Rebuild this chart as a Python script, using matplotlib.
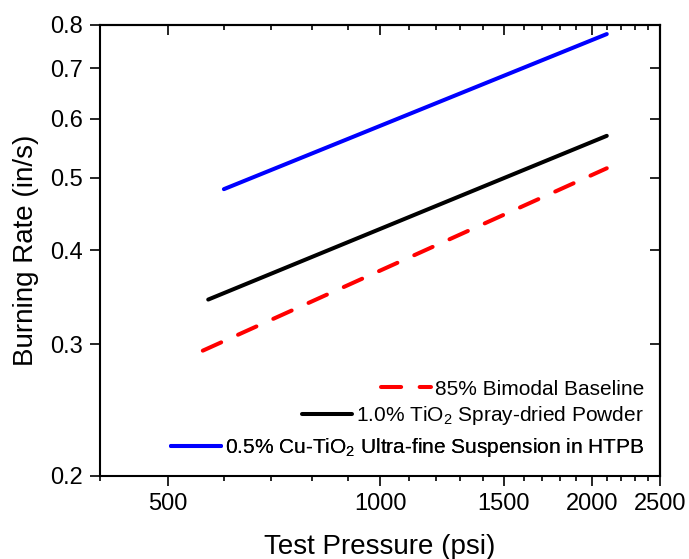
import numpy as np
import matplotlib
matplotlib.use('Agg')
import matplotlib.pyplot as plt
from matplotlib.ticker import FixedLocator, NullFormatter, NullLocator, FixedFormatter

plt.rcParams['font.family'] = ['Liberation Sans', 'DejaVu Sans']
plt.rcParams['mathtext.fontset'] = 'custom'
plt.rcParams['mathtext.rm'] = 'Liberation Sans'
plt.rcParams['mathtext.it'] = 'Liberation Sans'

# Valori (estremi delle rette nel piano log-log)
pressBaseline = [560, 2100]
rateBaseline = [0.294, 0.515]
pressPowder = [570, 2100]
ratePowder = [0.344, 0.569]
pressSusp = [600, 2100]
rateSusp = [0.483, 0.778]

labels = ['85% Bimodal Baseline',
          '1.0% TiO$_\\mathregular{2}$ Spray-dried Powder',
          '0.5% Cu-TiO$_\\mathregular{2}$ Ultra-fine Suspension in HTPB']

xTicks = [500, 1000, 1500, 2000, 2500]
xMinor = [400, 600, 700, 800, 900, 1100, 1200, 1300, 1400, 1600, 1700, 1800, 1900, 2100, 2200, 2300, 2400]
yTicks = [0.2, 0.3, 0.4, 0.5, 0.6, 0.7, 0.8]

fig = plt.figure(figsize=(6.89, 5.59), dpi=100)
ax = fig.add_axes([0.1451, 0.1485, 0.8129, 0.8068])

lw = 2.9
l1, = ax.plot(pressBaseline, rateBaseline, color='red', lw=lw, dashes=(5, 4.6),
              dash_capstyle='round')
l2, = ax.plot(pressPowder, ratePowder, color='black', lw=lw, solid_capstyle='round')
l3, = ax.plot(pressSusp, rateSusp, color='blue', lw=lw, solid_capstyle='round')

ax.set_xscale('log')
ax.set_yscale('log')
ax.set_xlim(400, 2500)
ax.set_ylim(0.2, 0.8)

ax.xaxis.set_major_locator(FixedLocator(xTicks))
ax.xaxis.set_major_formatter(FixedFormatter([str(t) for t in xTicks]))
ax.xaxis.set_minor_locator(FixedLocator(xMinor))
ax.xaxis.set_minor_formatter(NullFormatter())
ax.yaxis.set_major_locator(FixedLocator(yTicks))
ax.yaxis.set_major_formatter(FixedFormatter([str(t) for t in yTicks]))
ax.yaxis.set_minor_locator(NullLocator())

# Tick esterni in basso/sinistra
ax.tick_params(which='both', labelsize=17, width=1.2, direction='out', top=False, right=False)
ax.tick_params(which='major', length=7, pad=5)
ax.tick_params(which='minor', length=3.5)

# Tick interni in alto/destra (assi secondari)
axT = ax.secondary_xaxis('top')
axT.set_xscale('log')
axT.xaxis.set_major_locator(FixedLocator(xTicks))
axT.xaxis.set_minor_locator(FixedLocator(xMinor))
axT.xaxis.set_major_formatter(NullFormatter())
axT.xaxis.set_minor_formatter(NullFormatter())
axT.tick_params(which='both', direction='in', width=1.2)
axT.tick_params(which='major', length=7)
axT.tick_params(which='minor', length=3.5)
axR = ax.secondary_yaxis('right')
axR.set_yscale('log')
axR.yaxis.set_major_locator(FixedLocator(yTicks))
axR.yaxis.set_minor_locator(NullLocator())
axR.yaxis.set_major_formatter(NullFormatter())
axR.tick_params(which='major', direction='in', length=7, width=1.2)

for s in list(ax.spines.values()) + [axT.spines['top'], axR.spines['right']]:
    s.set_linewidth(1.5)

ax.set_xlabel('Test Pressure (psi)', fontsize=20, labelpad=14)
ax.set_ylabel('Burning Rate (in/s)', fontsize=20, labelpad=8)

# Legenda: una voce per riga, allineate a destra
rowsY = [0.304, 0.257, 0.199]
for h, lab, yc in zip([l1, l2, l3], labels, rowsY):
    leg = ax.legend([h], [lab], loc='center right', bbox_to_anchor=(0.935, yc),
                    bbox_transform=fig.transFigure, frameon=False, fontsize=15,
                    handlelength=2.4, handletextpad=0.2, borderpad=0, borderaxespad=0)
    ax.add_artist(leg)

fig.savefig('out.png', dpi=100)
